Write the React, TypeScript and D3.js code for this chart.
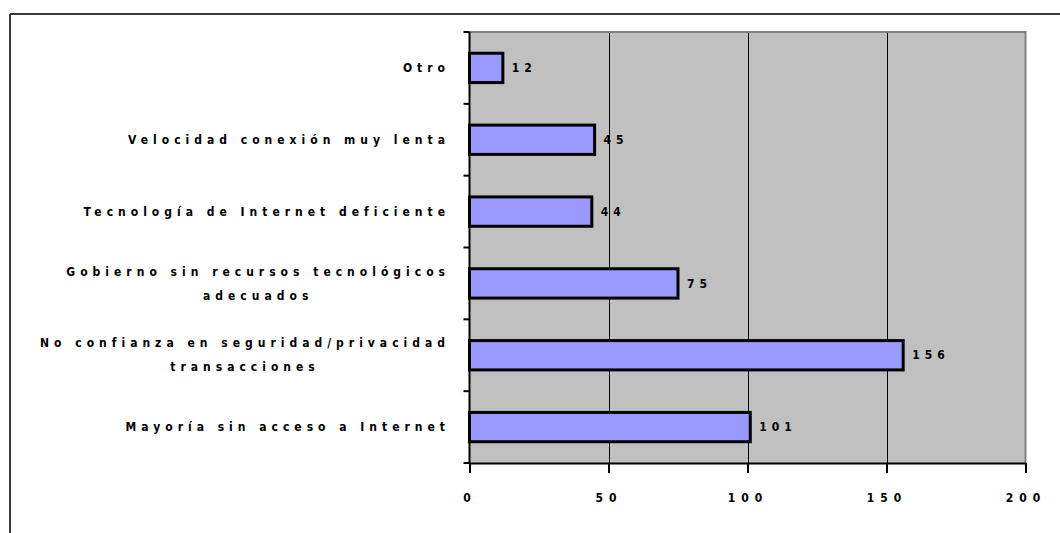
import React from "react";
import * as d3 from "d3";

// categories top to bottom, each label split into its lines
const categories = [
  "Otro",
  "Velocidad conexión muy lenta",
  "Tecnología de Internet deficiente",
  "Gobierno sin recursos tecnológicos adecuados",
  "No confianza en seguridad/privacidad transacciones",
  "Mayoría sin acceso a Internet",
];
const categoryLines = [
  ["Otro"],
  ["Velocidad conexión muy lenta"],
  ["Tecnología de Internet deficiente"],
  ["Gobierno sin recursos tecnológicos", "adecuados"],
  ["No confianza en seguridad/privacidad", "transacciones"],
  ["Mayoría sin acceso a Internet"],
];
const values = [12, 45, 44, 75, 156, 101];
const xTicks = [0, 50, 100, 150, 200];

export default function App() {
  const svgRef = React.useRef<SVGSVGElement>(null);
  const width = 1060;
  const height = 533;
  const plot = { left: 469.5, right: 1025.5, top: 32, bottom: 463 };
  const font = "'DejaVu Sans Condensed', 'DejaVu Sans', sans-serif";

  React.useEffect(() => {
    const svg = d3.select(svgRef.current);
    svg.selectAll("*").remove();

    const x = d3.scaleLinear().domain([0, 200]).range([plot.left, plot.right]);
    const y = d3
      .scaleBand()
      .domain(categories)
      .range([plot.top, plot.bottom])
      .paddingInner(0.55)
      .paddingOuter(0.275);

    // outer frame (top and left only are visible)
    svg.append("line")
      .attr("x1", 10).attr("x2", width).attr("y1", 14).attr("y2", 14)
      .attr("stroke", "#3a3a3a").attr("stroke-width", 2);
    svg.append("line")
      .attr("x1", 10).attr("x2", 10).attr("y1", 14).attr("y2", height)
      .attr("stroke", "#3a3a3a").attr("stroke-width", 2);

    // plot background
    svg.append("rect")
      .attr("x", plot.left).attr("y", plot.top)
      .attr("width", plot.right - plot.left)
      .attr("height", plot.bottom - plot.top)
      .attr("fill", "#c0c0c0");

    // grid lines
    svg.append("g")
      .selectAll("line")
      .data(xTicks.filter((t) => t > 0 && t < 200))
      .enter()
      .append("line")
      .attr("x1", (d) => Math.round(x(d)) + 0.5)
      .attr("x2", (d) => Math.round(x(d)) + 0.5)
      .attr("y1", plot.top)
      .attr("y2", plot.bottom)
      .attr("stroke", "#000")
      .attr("stroke-width", 1);

    // gray top and right border
    svg.append("path")
      .attr("d", `M${plot.left},${plot.top}H${plot.right}V${plot.bottom}`)
      .attr("fill", "none")
      .attr("stroke", "#808080")
      .attr("stroke-width", 2);

    // bars
    svg.append("g")
      .selectAll("rect")
      .data(values)
      .enter()
      .append("rect")
      .attr("x", x(0))
      .attr("y", (d, i) => (y(categories[i]) as number) + 1.5)
      .attr("width", (d) => x(d) - x(0))
      .attr("height", y.bandwidth() - 3)
      .attr("fill", "#9999ff")
      .attr("stroke", "#000")
      .attr("stroke-width", 3);

    // value labels
    svg.append("g")
      .selectAll("text")
      .data(values)
      .enter()
      .append("text")
      .attr("x", (d) => x(d) + 9)
      .attr("y", (d, i) => (y(categories[i]) as number) + y.bandwidth() / 2)
      .attr("dy", "0.35em")
      .attr("font-family", font)
      .attr("font-size", 12)
      .attr("font-weight", "bold")
      .attr("letter-spacing", 5)
      .attr("fill", "#000")
      .text((d) => d);

    // x axis
    const xAxis = svg.append("g")
      .attr("transform", `translate(0,${plot.bottom})`)
      .call(d3.axisBottom(x).tickValues(xTicks).tickSize(10).tickPadding(20).tickSizeOuter(0));
    xAxis.select(".domain").attr("stroke", "#000").attr("stroke-width", 2);
    xAxis.selectAll(".tick line").attr("stroke", "#000").attr("stroke-width", 2);
    xAxis.selectAll(".tick text")
      .attr("font-family", font)
      .attr("font-size", 12)
      .attr("font-weight", "bold")
      .attr("letter-spacing", 6)
      .attr("fill", "#000");

    // y axis ticks at category boundaries
    const bounds = categories.map((c) => (y(c) as number) - (y.step() * y.paddingInner()) / 2);
    bounds.push(plot.bottom);
    svg.append("line")
      .attr("x1", plot.left).attr("x2", plot.left)
      .attr("y1", plot.top).attr("y2", plot.bottom)
      .attr("stroke", "#000").attr("stroke-width", 2);
    svg.append("g")
      .selectAll("line")
      .data(bounds)
      .enter()
      .append("line")
      .attr("x1", plot.left - 6)
      .attr("x2", plot.left)
      .attr("y1", (d) => d)
      .attr("y2", (d) => d)
      .attr("stroke", "#000")
      .attr("stroke-width", 2);

    // category labels, wrapped ones centered on their widest line
    const labelRight = 445;
    const spacing = 5;
    const lineGap = 24;
    categoryLines.forEach((lines, i) => {
      const cy = (y(categories[i]) as number) + y.bandwidth() / 2;
      const g = svg.append("g");
      const texts = lines.map((ln, j) =>
        g.append("text")
          .attr("y", cy + (j - (lines.length - 1) / 2) * lineGap)
          .attr("dy", "0.35em")
          .attr("font-family", font)
          .attr("font-size", 12)
          .attr("font-weight", "bold")
          .attr("letter-spacing", spacing)
          .attr("fill", "#000")
          .text(ln)
      );
      const widths = texts.map((t) => (t.node() as SVGTextElement).getComputedTextLength());
      const maxW = d3.max(widths) as number;
      const centre = labelRight + spacing - maxW / 2;
      texts.forEach((t, j) => t.attr("x", centre - widths[j] / 2));
    });
  }, []);

  return (
    <svg
      ref={svgRef}
      width={width}
      height={height}
      style={{ position: "absolute", left: 0, top: 0, background: "#fff" }}
    />
  );
}
